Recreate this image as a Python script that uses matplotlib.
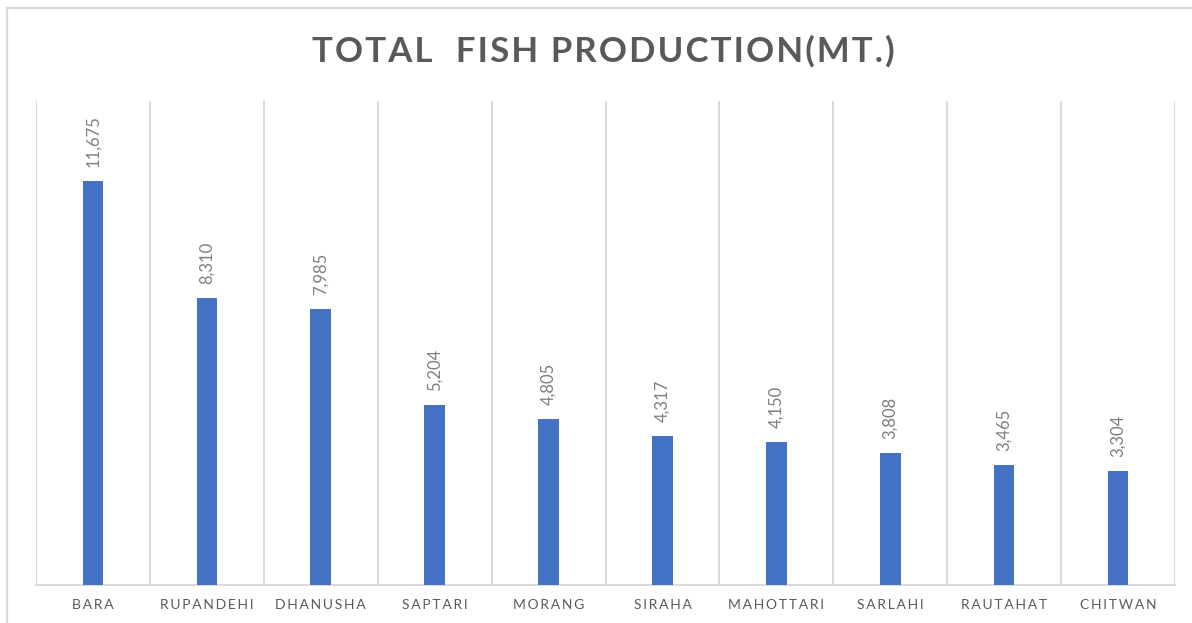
import matplotlib
matplotlib.use("Agg")
import matplotlib.pyplot as plt
from matplotlib.lines import Line2D
import numpy as np

districts = ["BARA", "RUPANDEHI", "DHANUSHA", "SAPTARI", "MORANG",
             "SIRAHA", "MAHOTTARI", "SARLAHI", "RAUTAHAT", "CHITWAN"]
production = [11675, 8310, 7985, 5204, 4805, 4317, 4150, 3808, 3465, 3304]
title_text = "TOTAL  FISH PRODUCTION(MT.)"

GRID = "#d9d9d9"
TXT = "#595959"
BAR = "#4472C4"
FAM = ["Lato", "DejaVu Sans"]

fig = plt.figure(figsize=(11.92, 6.23), dpi=100)
ax = fig.add_axes([36/1192, 1-585/623, (1175-36)/1192, (585-101)/623])

x = np.arange(len(districts))
ax.bar(x, production, width=0.18, color=BAR, zorder=3)

ax.set_xlim(-0.5, len(districts)-0.5)
ax.set_ylim(0, 14000)
ax.set_yticks([])
ax.set_xticks(x)
spaced = ["\u2009".join(list(d)) for d in districts]
ax.set_xticklabels(spaced, fontsize=10, color=TXT, family=FAM)
ax.tick_params(axis="x", length=0, pad=10)
ax.set_xticks(np.arange(-0.5, len(districts)), minor=True)
ax.tick_params(axis="x", which="minor", length=0)
ax.grid(axis="x", which="minor", color=GRID, lw=1.4, zorder=0)
for s in ["top", "left", "right"]:
    ax.spines[s].set_visible(False)
ax.spines["bottom"].set_color(GRID)
ax.spines["bottom"].set_linewidth(1.4)

for xi, v in zip(x, production):
    ax.annotate(f"{v:,}", (xi, v), xytext=(0, 10), textcoords="offset points",
                rotation=90, ha="center", va="bottom", fontsize=12,
                color="#7f7f7f", family=FAM)

fig.text(603/1192, 1-51/623, "\u200a".join(list(title_text)), ha="center", va="center",
         fontsize=25, fontweight="bold", color=TXT, family=FAM)

fig.add_artist(Line2D([7.5/1192, 1], [1-7.5/623, 1-7.5/623], transform=fig.transFigure,
                      color=GRID, lw=1.6))
fig.add_artist(Line2D([7.5/1192, 7.5/1192], [0, 1-7.5/623], transform=fig.transFigure,
                      color=GRID, lw=1.6))

fig.savefig("out.png", dpi=100, facecolor="white")
